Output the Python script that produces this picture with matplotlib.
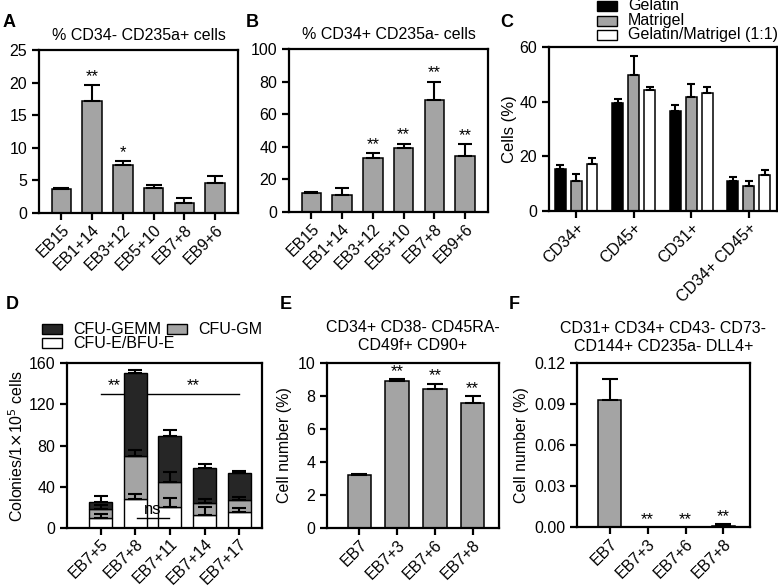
import matplotlib
matplotlib.use("Agg")
import matplotlib.pyplot as plt
from matplotlib.patches import Rectangle
import numpy as np

plt.rcParams['font.family'] = ['Liberation Sans', 'DejaVu Sans']
plt.rcParams['axes.linewidth'] = 1.6
plt.rcParams['xtick.major.width'] = 1.6
plt.rcParams['ytick.major.width'] = 1.6
plt.rcParams['xtick.major.size'] = 5
plt.rcParams['ytick.major.size'] = 5
plt.rcParams['xtick.labelsize'] = 11.5
plt.rcParams['ytick.labelsize'] = 11.5

# ---------------- data ----------------
cats_ab = ["EB15", "EB1+14", "EB3+12", "EB5+10", "EB7+8", "EB9+6"]
a_vals = [3.7, 17.2, 7.4, 3.9, 1.5, 4.6]
a_err = [0.2, 2.4, 0.5, 0.4, 0.8, 1.0]
a_sig = ["", "**", "*", "", "", ""]

b_vals = [11.5, 10.5, 33.0, 39.0, 69.0, 34.5]
b_err = [1.0, 4.0, 3.0, 3.0, 11.0, 7.0]
b_sig = ["", "", "**", "**", "**", "**"]

cats_c = ["CD34+", "CD45+", "CD31+", "CD34+ CD45+"]
c_gelatin = [15.3, 39.5, 36.7, 11.0]
c_gelatin_err = [1.5, 1.5, 2.0, 1.3]
c_matrigel = [11.0, 49.7, 41.7, 9.0]
c_matrigel_err = [2.5, 7.0, 4.8, 2.0]
c_mix = [17.2, 44.3, 43.0, 13.0]
c_mix_err = [2.2, 0.9, 2.5, 2.0]
c_series = ["Gelatin", "Matrigel", "Gelatin/Matrigel (1:1)"]

cats_d = ["EB7+5", "EB7+8", "EB7+11", "EB7+14", "EB7+17"]
d_e_bfu = [10.0, 28.0, 20.5, 13.0, 16.0]
d_e_bfu_err = [4.0, 4.5, 9.0, 7.5, 3.8]
d_gm = [8.0, 42.0, 24.5, 11.7, 11.6]
d_gm_err = [4.0, 6.0, 9.0, 3.3, 2.6]
d_gemm = [7.0, 80.0, 44.6, 33.7, 26.0]
d_gemm_err = [6.0, 3.5, 5.4, 3.6, 1.4]
d_series = ["CFU-GEMM", "CFU-GM", "CFU-E/BFU-E"]

cats_ef = ["EB7", "EB7+3", "EB7+6", "EB7+8"]
e_vals = [3.2, 8.9, 8.45, 7.6]
e_err = [0.1, 0.15, 0.3, 0.4]
e_sig = ["", "**", "**", "**"]

f_vals = [0.093, 0.0, 0.0, 0.001]
f_err = [0.015, 0.0, 0.0, 0.001]
f_sig = ["", "**", "**", "**"]

GRAY = "#a4a4a4"
DARK = "#262626"

W, H = 778, 588
fig = plt.figure(figsize=(W / 100, H / 100), dpi=100)


def add_ax(l, t, r, b):
    return fig.add_axes([l / W, 1 - b / H, (r - l) / W, (b - t) / H])


def legend_item(x, yc, color, label, fs=11.5):
    # x, yc in figure pixels from top-left
    fig.add_artist(Rectangle((x / W, 1 - (yc + 5) / H), 20 / W, 10 / H, transform=fig.transFigure,
                             facecolor=color, edgecolor="black", linewidth=1.0))
    fig.text((x + 31) / W, 1 - yc / H, label, fontsize=fs, ha="left", va="center")


def simple_bars(ax, cats, vals, errs, sig, ylim, yticks, xlim, width, fmt=None, star_off=1, cap=6):
    x = np.arange(len(cats))
    ax.bar(x, vals, width=width, color=GRAY, edgecolor="black", linewidth=1.1, zorder=2)
    for xi, v, e in zip(x, vals, errs):
        if e > 0:
            ax.errorbar(xi, v, yerr=[[0], [e]], fmt="none", ecolor="black",
                        elinewidth=1.5, capsize=cap, capthick=1.5, zorder=3)
    for xi, v, e, s in zip(x, vals, errs, sig):
        if s:
            ax.annotate(s, (xi, v + e), xytext=(0, star_off), textcoords="offset points",
                        ha="center", va="bottom", fontsize=12)
    ax.set_ylim(*ylim)
    ax.set_yticks(yticks)
    if fmt:
        ax.set_yticklabels([fmt.format(t) for t in yticks])
    ax.set_xlim(*xlim)
    ax.set_xticks(x)
    ax.set_xticklabels(cats, rotation=45, ha="right", rotation_mode="anchor")
    ax.tick_params(axis="x", pad=1.5)


# ---------------- A ----------------
axA = add_ax(39, 50, 238, 213)
simple_bars(axA, cats_ab, a_vals, a_err, a_sig, (0, 25), [0, 5, 10, 15, 20, 25], (-0.73, 5.75), 0.63)
axA.set_title("% CD34- CD235a+ cells", fontsize=11.5, pad=7)

# ---------------- B ----------------
axB = add_ax(289, 49, 488, 212)
simple_bars(axB, cats_ab, b_vals, b_err, b_sig, (0, 100), [0, 20, 40, 60, 80, 100], (-0.73, 5.75), 0.63,
            cap=5)
axB.set_title("% CD34+ CD235a- cells", fontsize=11.5, pad=7)

# ---------------- C ----------------
axC = add_ax(549, 47, 777, 211)
xc = np.arange(len(cats_c))
off = 0.277
bw = 0.19
c_colors = ["black", GRAY, "white"]
for k, (vals, errs) in enumerate([(c_gelatin, c_gelatin_err),
                                  (c_matrigel, c_matrigel_err),
                                  (c_mix, c_mix_err)]):
    pos = xc + (k - 1) * off
    axC.bar(pos, vals, width=bw, color=c_colors[k], edgecolor="black", linewidth=1.1,
            label=c_series[k], zorder=2)
    for p, v, e in zip(pos, vals, errs):
        axC.errorbar(p, v, yerr=[[0], [e]], fmt="none", ecolor="black",
                     elinewidth=1.5, capsize=3, capthick=1.5, zorder=3)
axC.set_ylim(0, 60)
axC.set_yticks([0, 20, 40, 60])
axC.set_xlim(-0.47, 3.49)
axC.set_xticks(xc)
axC.set_xticklabels(cats_c, rotation=45, ha="right", rotation_mode="anchor")
axC.tick_params(axis="x", pad=1.5)
axC.set_ylabel("Cells (%)", fontsize=12, labelpad=2)
for k, yc in enumerate([6, 21, 35]):
    legend_item(597, yc, c_colors[k], c_series[k])

# ---------------- D ----------------
axD = add_ax(67, 363, 262, 528)
xd = np.arange(len(cats_d))
bwd = 0.66
bottom2 = np.array(d_e_bfu)
bottom3 = bottom2 + np.array(d_gm)
axD.bar(xd, d_e_bfu, width=bwd, color="white", edgecolor="black", linewidth=1.0, zorder=2)
axD.bar(xd, d_gm, width=bwd, bottom=bottom2, color=GRAY, edgecolor="black", linewidth=1.0, zorder=2)
axD.bar(xd, d_gemm, width=bwd, bottom=bottom3, color=DARK, edgecolor="black", linewidth=1.0, zorder=2)
tops = [bottom2, bottom3, bottom3 + np.array(d_gemm)]
for top, errs in zip(tops, [d_e_bfu_err, d_gm_err, d_gemm_err]):
    for xi, v, e in zip(xd, top, errs):
        axD.errorbar(xi, v, yerr=[[0], [e]], fmt="none", ecolor="black",
                     elinewidth=1.5, capsize=4.7, capthick=1.5, zorder=3)
axD.plot([0, 4], [130, 130], color="black", linewidth=1.0, zorder=1)
axD.text(0.38, 131, "**", ha="center", va="bottom", fontsize=12)
axD.text(2.67, 131, "**", ha="center", va="bottom", fontsize=12)
axD.plot([1.05, 1.97], [10, 10], color="black", linewidth=1.0, zorder=4)
axD.text(1.5, 11, "ns", ha="center", va="bottom", fontsize=12, zorder=4)
axD.set_ylim(0, 160)
axD.set_yticks([0, 40, 80, 120, 160])
axD.set_xlim(-0.97, 4.66)
axD.set_xticks(xd)
axD.set_xticklabels(cats_d, rotation=45, ha="right", rotation_mode="anchor")
axD.tick_params(axis="x", pad=1)
axD.set_ylabel("Colonies/1$\\times$10$^5$ cells", fontsize=11.5, labelpad=2)
legend_item(42, 329, DARK, d_series[0])
legend_item(167, 329, GRAY, d_series[1])
legend_item(42, 343, "white", d_series[2])

# ---------------- E ----------------
axE = add_ax(327, 363, 499, 528)
simple_bars(axE, cats_ef, e_vals, e_err, e_sig, (0, 10), [0, 2, 4, 6, 8, 10], (-0.86, 3.7), 0.62,
            star_off=0)
axE.set_ylabel("Cell number (%)", fontsize=11.5, labelpad=4)
axE.set_title("CD34+ CD38- CD45RA-\nCD49f+ CD90+", fontsize=11.5, pad=9, linespacing=1.25)

# ---------------- F ----------------
axF = add_ax(577, 363, 750, 527)
simple_bars(axF, cats_ef, f_vals, f_err, f_sig, (0, 0.12), [0, 0.03, 0.06, 0.09, 0.12],
            (-0.86, 3.7), 0.62, fmt="{:.2f}", star_off=0)
axF.set_ylabel("Cell number (%)", fontsize=11.5, labelpad=4)
axF.set_title("CD31+ CD34+ CD43- CD73-\nCD144+ CD235a- DLL4+", fontsize=11.5, pad=9, linespacing=1.25)

# ---------------- panel letters ----------------
for lab, x, y in [("A", 3, 14), ("B", 246, 14), ("C", 500, 14),
                  ("D", 6, 296), ("E", 280, 296), ("F", 509, 296)]:
    fig.text(x / W, 1 - y / H, lab, fontsize=13, fontweight="bold", ha="left", va="top")

fig.savefig("out.png", dpi=100)
